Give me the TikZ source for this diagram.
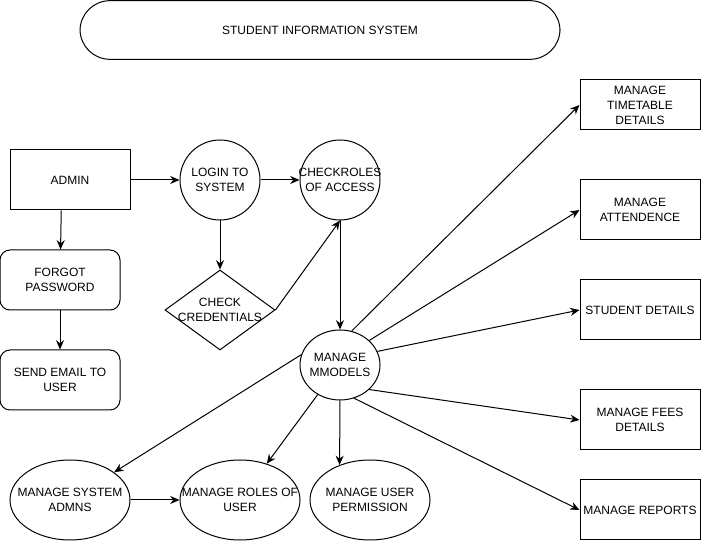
\documentclass[tikz,border=0pt]{standalone}
\usepackage{fontspec}
\setmainfont{Liberation Sans}
\usetikzlibrary{arrows.meta,shapes.geometric}

\tikzset{
  txt/.style={align=center,inner sep=0pt},
  box/.style={draw,rectangle,minimum width=90pt,minimum height=45pt,inner sep=1pt,align=center},
  roundbox/.style={box,rounded corners=7.5pt},
  pill/.style={draw,rectangle,rounded corners=22.5pt,minimum width=360pt,minimum height=44pt},
  circ/.style={draw,circle,minimum size=60pt,inner sep=0pt},
  oval/.style={draw,ellipse,minimum width=90pt,minimum height=60pt,inner sep=0pt},
  dia/.style={draw,diamond,minimum width=82.5pt,minimum height=60pt,inner sep=0pt},
}

\begin{document}
\begin{tikzpicture}[x=0.75pt,y=-0.75pt,>={Stealth[length=7pt,width=6pt]},
  line width=0.75pt,font=\fontsize{9}{11.25}\selectfont]
  \useasboundingbox (0,0) rectangle (701,541);

  % title
  \node[pill] (title) at (320,30) {STUDENT INFORMATION SYSTEM};

  % left column
  \node[box] (admin) at (70,180) {ADMIN};
  \node[roundbox] (forgot) at (60,280) {FORGOT\\PASSWORD};
  \node[roundbox] (email) at (60,380) {SEND EMAIL TO\\USER};

  % login part
  \node[circ,label={[txt]center:LOGIN TO\\SYSTEM}] (login) at (220,180) {};
  \node[circ,label={[txt]center:CHECKROLES\\OF ACCESS}] (roles) at (340,180) {};
  \node[dia,label={[txt]center:CHECK\\CREDENTIALS}] (cred) at (220,310) {};
  \node[oval,minimum width=60pt,minimum height=52.5pt,
        label={[txt]center:MANAGE\\MMODELS}] (mm) at (340,365) {};

  % bottom ellipses
  \node[oval,label={[txt]center:MANAGE SYSTEM\\ADMNS}] (admns) at (70,500) {};
  \node[oval,label={[txt]center:MANAGE ROLES OF\\USER}] (uroles) at (240,500) {};
  \node[oval,label={[txt]center:MANAGE USER\\PERMISSION}] (perm) at (370,500) {};

  % right boxes
  \node[box,minimum height=37.5pt] (time) at (640,105) {MANAGE\\TIMETABLE\\DETAILS};
  \node[box] (att) at (640,210) {MANAGE\\ATTENDENCE};
  \node[box] (stud) at (640,310) {STUDENT DETAILS};
  \node[box] (fees) at (640,420) {MANAGE FEES\\DETAILS};
  \node[box] (rep) at (640,510) {MANAGE REPORTS};

  % arrows
  \draw[->] (admin) -- (login);
  \draw[->] (login) -- (roles);
  \draw[->] (admin.254) -- (forgot);
  \draw[->] (forgot) -- (email);
  \draw[->] (login) -- (cred);
  \draw[->] (cred.east) -- (roles.south);
  \draw[->] (roles) -- (mm);

  \draw[->] (mm.71) -- (time.west);
  \draw[->] (mm.40) -- (att.west);
  \draw[->] (mm.20) -- (stud.west);
  \draw[->] (mm.-40) -- (fees.west);
  \draw[->] (mm.-67) -- (rep.west);

  \draw[->] (mm.165) -- (admns);
  \draw[->] (mm.233) -- (uroles);
  \draw[->] (mm.south) -- (perm.131);
  \draw[->] (admns) -- (uroles);
\end{tikzpicture}
\end{document}
